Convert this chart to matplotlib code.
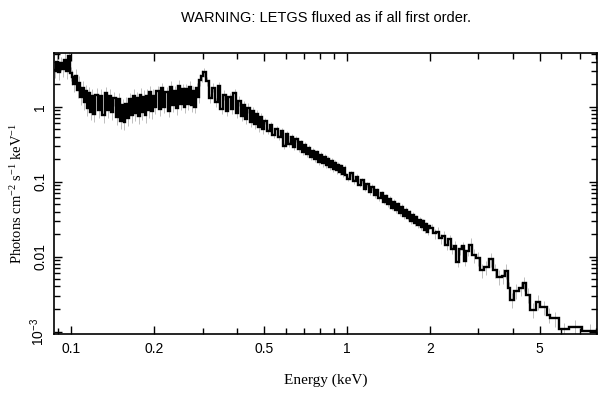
import numpy as np
import matplotlib
matplotlib.use("Agg")
import matplotlib.pyplot as plt
from matplotlib.ticker import FixedLocator, LogLocator, NullFormatter, FixedFormatter

plt.rcParams['font.family'] = ['Liberation Sans', 'DejaVu Sans']
plt.rcParams['mathtext.default'] = 'regular'

# bin edges (keV)
edges = [
    # 0.087 - 0.12
    0.0870, 0.0885, 0.0900, 0.0915, 0.0930, 0.0945, 0.0960, 0.0975, 0.0990,
    0.1005, 0.1020, 0.1035, 0.1050, 0.1065, 0.1080, 0.1095, 0.1110, 0.1125,
    0.1140, 0.1155, 0.1170, 0.1185,
    # 0.12 - 0.2
    0.1200, 0.1225, 0.1250, 0.1275, 0.1300, 0.1325, 0.1350, 0.1375, 0.1400,
    0.1425, 0.1450, 0.1475, 0.1500, 0.1525, 0.1550, 0.1575, 0.1600, 0.1625,
    0.1650, 0.1675, 0.1700, 0.1725, 0.1750, 0.1775, 0.1800, 0.1825, 0.1850,
    0.1875, 0.1900, 0.1925, 0.1950, 0.1975,
    # 0.2 - 0.3
    0.200, 0.204, 0.208, 0.212, 0.216, 0.220, 0.224, 0.228, 0.232, 0.236,
    0.240, 0.244, 0.248, 0.252, 0.256, 0.260, 0.264, 0.268, 0.272, 0.276,
    0.280, 0.284, 0.288, 0.292, 0.296,
    # 0.3 - 0.5
    0.300, 0.308, 0.316, 0.324, 0.332, 0.340, 0.348, 0.356, 0.364, 0.372,
    0.380, 0.388, 0.396, 0.404, 0.412, 0.420, 0.428, 0.436, 0.444, 0.452,
    0.460, 0.468, 0.476, 0.484, 0.492,
    # 0.5 - 1
    0.5000, 0.5125, 0.5250, 0.5375, 0.5500, 0.5625, 0.5750, 0.5875, 0.6000,
    0.6125, 0.6250, 0.6375, 0.6500, 0.6625, 0.6750, 0.6875, 0.7000, 0.7125,
    0.7250, 0.7375, 0.7500, 0.7625, 0.7750, 0.7875, 0.8000, 0.8125, 0.8250,
    0.8375, 0.8500, 0.8625, 0.8750, 0.8875, 0.9000, 0.9125, 0.9250, 0.9375,
    0.9500, 0.9625, 0.9750, 0.9875,
    # 1 - 2
    1.000, 1.025, 1.050, 1.075, 1.100, 1.125, 1.150, 1.175, 1.200, 1.225,
    1.250, 1.275, 1.300, 1.325, 1.350, 1.375, 1.400, 1.425, 1.450, 1.475,
    1.500, 1.525, 1.550, 1.575, 1.600, 1.625, 1.650, 1.675, 1.700, 1.725,
    1.750, 1.775, 1.800, 1.825, 1.850, 1.875, 1.900, 1.925, 1.950, 1.975,
    # 2 - 2.77
    2.000, 2.055, 2.110, 2.165, 2.220, 2.275, 2.330, 2.385, 2.440, 2.495,
    2.550, 2.605, 2.660, 2.715,
    # wide bins
    2.77, 2.85, 2.93, 3.05, 3.14, 3.27, 3.38, 3.50, 3.65, 3.74, 3.83, 3.92,
    4.03, 4.20, 4.34, 4.47, 4.60, 4.83, 5.03, 5.32, 5.47, 5.86, 6.37, 7.12,
    8.10,
]

# photons cm^-2 s^-1 keV^-1, one value per bin
flux = [
    # 0.087 - 0.12
    3.1, 4.0, 2.9, 3.8, 3.2, 4.2, 3.0, 4.8, 2.8, 2.5, 2.0, 2.6, 1.65, 2.1,
    1.35, 1.8, 1.15, 1.6, 0.95, 1.5, 0.85, 1.4,
    # 0.12 - 0.2
    0.8, 1.45, 0.9, 1.4, 0.78, 1.5, 0.9, 1.4, 0.85, 1.3, 0.72, 1.25, 0.65,
    1.05, 0.62, 1.1, 0.7, 1.25, 0.78, 1.4, 0.82, 1.3, 0.75, 1.45, 0.85, 1.35,
    0.78, 1.4, 0.9, 1.55, 0.88, 1.4,
    # 0.2 - 0.3
    0.98, 1.6, 0.92, 1.75, 1.0, 1.55, 0.88, 1.85, 1.05, 1.6, 0.95, 1.9, 1.1,
    1.7, 1.0, 1.7, 1.1, 1.85, 1.05, 1.6, 1.0, 1.75, 1.35, 2.3, 2.6,
    # 0.3 - 0.5
    2.9, 2.2, 1.3, 1.8, 1.15, 1.9, 0.92, 1.45, 0.88, 1.35, 0.92, 1.5, 0.82,
    1.2, 0.74, 1.06, 0.68, 0.97, 0.63, 0.88, 0.59, 0.8, 0.54, 0.72, 0.51,
    # 0.5 - 1
    0.64, 0.47, 0.57, 0.42, 0.51, 0.39, 0.47, 0.30, 0.43, 0.32, 0.40, 0.29,
    0.37, 0.27, 0.335, 0.25, 0.31, 0.235, 0.28, 0.215, 0.26, 0.20, 0.245,
    0.185, 0.23, 0.175, 0.213, 0.165, 0.203, 0.155, 0.188, 0.148, 0.178,
    0.141, 0.169, 0.133, 0.16, 0.127, 0.151, 0.121,
    # 1 - 2
    0.110, 0.130, 0.102, 0.116, 0.091, 0.104, 0.081, 0.093, 0.073, 0.085,
    0.066, 0.077, 0.060, 0.070, 0.054, 0.064, 0.050, 0.059, 0.045, 0.054,
    0.042, 0.050, 0.038, 0.046, 0.035, 0.042, 0.033, 0.039, 0.030, 0.036,
    0.028, 0.0335, 0.0265, 0.031, 0.0245, 0.0295, 0.0225, 0.0272, 0.0212,
    0.0255,
    # 2 - 2.77
    0.0240, 0.0205, 0.0215, 0.0175, 0.0190, 0.0145, 0.0170, 0.0128, 0.0140,
    0.0085, 0.0125, 0.0138, 0.0088, 0.0120,
    # wide bins
    0.0145, 0.0105, 0.0095, 0.0066, 0.0072, 0.0092, 0.0066, 0.0054, 0.0056,
    0.0065, 0.0038, 0.00265, 0.00352, 0.0038, 0.0044, 0.0031, 0.00195,
    0.0025, 0.00211, 0.00167, 0.0015, 0.00107, 0.00117, 0.00103,
]

# fractional 1-sigma errors, estimated per stretch of the spectrum
rel_err = ([0.22] * 22 + [0.22] * 32 + [0.18] * 25 + [0.14] * 25 +
           [0.09] * 40 + [0.08] * 40 + [0.15] * 14 + [0.22] * 24)

xticks = [0.1, 0.2, 0.5, 1, 2, 5]
xticklabels = ['0.1', '0.2', '0.5', '1', '2', '5']
yticks = [1e-3, 0.01, 0.1, 1]
yticklabels = ['$10^{-3}$', '0.01', '0.1', '1']

edges = np.array(edges)
flux = np.array(flux)
centers = np.sqrt(edges[:-1] * edges[1:])

fig = plt.figure(figsize=(6.09, 3.98), dpi=100)
ax = fig.add_axes([0.0892, 0.1608, 0.8906, 0.7068])

ax.errorbar(centers, flux, yerr=flux * np.array(rel_err), fmt='none',
            ecolor='0.75', elinewidth=0.7, zorder=1)
ax.stairs(flux, edges, baseline=None, color='black', linewidth=1.7, zorder=2)

ax.set_xscale('log')
ax.set_yscale('log')
ax.set_xlim(0.087, 8.05)
ax.set_ylim(9.3e-4, 5.25)

ax.xaxis.set_major_locator(FixedLocator(xticks))
ax.xaxis.set_major_formatter(FixedFormatter(xticklabels))
ax.xaxis.set_minor_locator(LogLocator(base=10, subs=np.arange(1, 10)))
ax.xaxis.set_minor_formatter(NullFormatter())
ax.yaxis.set_major_locator(FixedLocator(yticks))
ax.yaxis.set_major_formatter(FixedFormatter(yticklabels))
ax.yaxis.set_minor_locator(LogLocator(base=10, subs=np.arange(1, 10)))
ax.yaxis.set_minor_formatter(NullFormatter())

ax.tick_params(which='both', direction='in', top=True, right=True,
               width=1, labelsize=10, colors='black')
ax.tick_params(which='major', length=6)
ax.tick_params(which='minor', length=4)
ax.tick_params(axis='x', pad=6)
ax.tick_params(axis='y', pad=5)
for lab in ax.get_yticklabels():
    lab.set_rotation(90)
    lab.set_va('center')
for sp in ax.spines.values():
    sp.set_linewidth(1.2)

ax.set_xlabel('Energy (keV)', family='Liberation Serif', fontsize=11)
ax.xaxis.set_label_coords(0.5, -0.14)
ax.set_ylabel('Photons cm$^{-2}$ s$^{-1}$ keV$^{-1}$', family='Liberation Serif',
              fontsize=10.5)
ax.yaxis.set_label_coords(-0.068, 0.5)
ax.yaxis.label.set_va('center')

fig.text(0.5345, 0.955, 'WARNING: LETGS fluxed as if all first order.',
         ha='center', va='center', fontsize=10.5)

fig.savefig('out.png', dpi=100)
